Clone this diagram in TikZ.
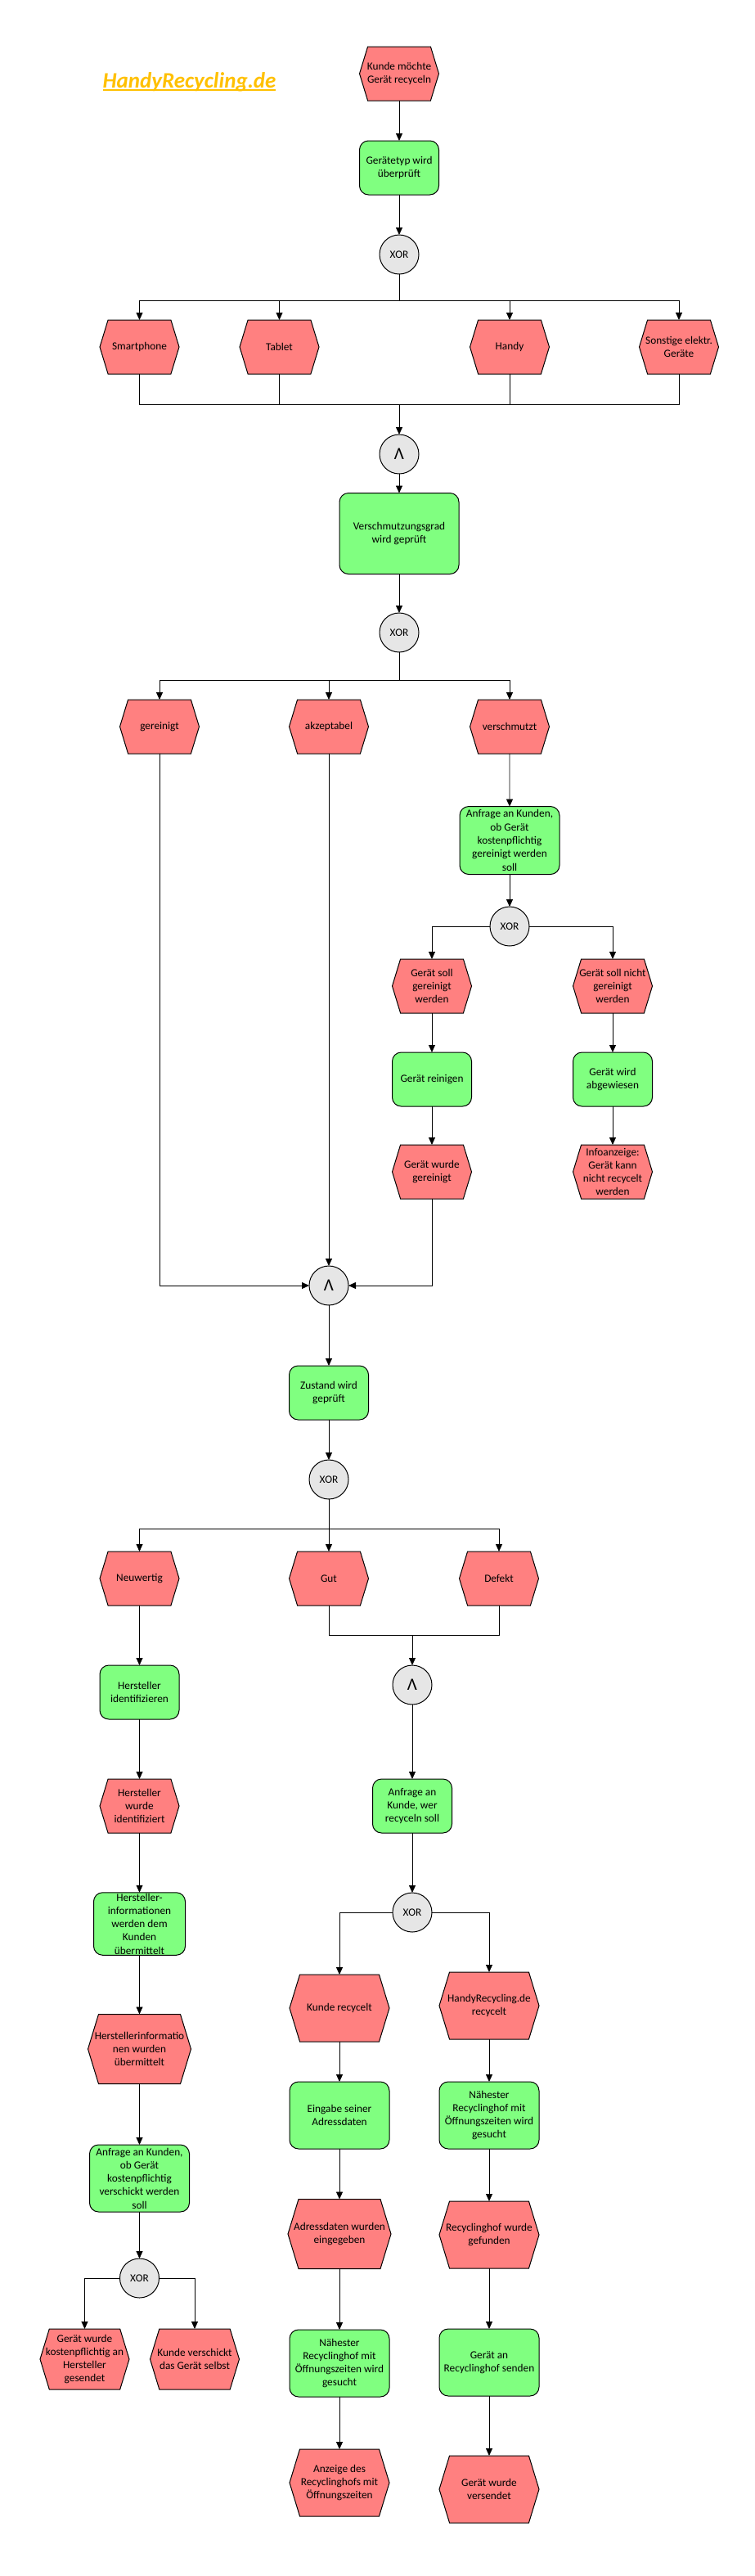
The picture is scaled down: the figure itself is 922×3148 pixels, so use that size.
\documentclass[tikz,border=0pt]{standalone}
\usepackage{fontspec}
\setmainfont{Carlito}
\usetikzlibrary{arrows.meta, shapes.symbols}
\definecolor{evred}{HTML}{FF8080}
\definecolor{fngreen}{HTML}{80FF80}
\definecolor{gtgray}{HTML}{E6E6E6}
\definecolor{logo}{HTML}{FFC000}

\begin{document}
\begin{tikzpicture}[x=1pt, y=-1pt,
    every node/.style={font=\fontsize{13.3}{16.3}\selectfont, align=center, outer sep=0pt},
    ev/.style={signal, signal to=east and west, signal from=nowhere, signal pointer angle=146,
      draw, line width=1pt, fill=evred, inner xsep=-10pt, inner ysep=1pt,
      minimum width=97pt, minimum height=66pt},
    fn/.style={rectangle, rounded corners=11pt, draw, line width=1pt, fill=fngreen,
      inner xsep=1pt, inner ysep=1pt, minimum width=97pt, minimum height=66pt},
    gt/.style={circle, draw, line width=1pt, fill=gtgray, inner sep=0pt, minimum size=48pt},
    andgt/.style={gt, font=\fontsize{21}{21}\selectfont},
    big/.style={minimum width=122pt, minimum height=82pt},
    arr/.style={line width=0.8pt, -{Triangle[length=9pt,width=8pt]}},
    ln/.style={line width=0.8pt}]

  \useasboundingbox (0,0) rectangle (922,3148);

  \node[font=\fontsize{27}{30}\selectfont\bfseries\itshape, text=logo, inner sep=0pt, anchor=base] (logo) at (231.5,107) {HandyRecycling.de};
  \draw[logo, line width=1.5pt] ([yshift=-3pt]logo.base west) -- ([yshift=-3pt]logo.base east);

  \node[ev] (e1) at (488,90) {Kunde möchte\\Gerät recyceln};
  \node[fn] (f1) at (488,205) {Gerätetyp wird\\überprüft};
  \node[gt] (g1) at (488,311) {XOR};
  \node[ev] (e2) at (170.5,424) {Smartphone};
  \node[ev] (e3) at (341.5,424) {Tablet};
  \node[ev] (e4) at (623,424) {Handy};
  \node[ev] (e5) at (830,424) {Sonstige elektr.\\Geräte};
  \node[andgt] (g2) at (488,555) {Λ};
  \node[fn, minimum width=146pt, minimum height=99pt] (f2) at (488,652) {Verschmutzungsgrad\\wird geprüft};
  \node[gt] (g3) at (488,773) {XOR};
  \node[ev] (e6) at (195,888) {gereinigt};
  \node[ev] (e7) at (402,888) {akzeptabel};
  \node[ev] (e8) at (623,888) {verschmutzt};
  \node[fn, minimum width=122pt, minimum height=83pt] (f3) at (623,1027) {Anfrage an Kunden,\\ob Gerät\\kostenpflichtig\\gereinigt werden\\soll};
  \node[gt] (g4) at (623,1132) {XOR};
  \node[ev] (e9) at (528,1205) {Gerät soll\\gereinigt\\werden};
  \node[ev] (e10) at (749,1205) {Gerät soll nicht\\gereinigt\\werden};
  \node[fn] (f4) at (528,1319) {Gerät reinigen};
  \node[fn] (f5) at (749,1319) {Gerät wird\\abgewiesen};
  \node[ev] (e11) at (528,1432) {Gerät wurde\\gereinigt};
  \node[ev] (e12) at (749,1432) {Infoanzeige:\\Gerät kann\\nicht recycelt\\werden};
  \node[andgt] (g5) at (402,1571) {Λ};
  \node[fn] (f6) at (402,1702) {Zustand wird\\geprüft};
  \node[gt] (g6) at (402,1808) {XOR};
  \node[ev] (e13) at (170.5,1929) {Neuwertig};
  \node[ev] (e14) at (402,1929) {Gut};
  \node[ev] (e15) at (610,1929) {Defekt};
  \node[andgt] (g7) at (504,2059) {Λ};
  \node[fn] (f7) at (170.5,2068) {Hersteller\\identifizieren};
  \node[ev] (e16) at (170.5,2207) {Hersteller\\wurde\\identifiziert};
  \node[fn] (f8) at (504,2207) {Anfrage an\\Kunde, wer\\recyceln soll};
  \node[gt] (g8) at (504,2337) {XOR};
  \node[fn, minimum width=112pt, minimum height=76pt] (f9) at (170.5,2351) {Hersteller-\\informationen\\werden dem\\Kunden\\übermittelt};
  \node[ev, big] (e17) at (415,2454) {Kunde recycelt};
  \node[ev, big] (e18) at (598,2451) {HandyRecycling.de\\recycelt};
  \node[ev, minimum width=126pt, minimum height=85pt] (e19) at (170.5,2504) {Herstellerinformatio\\nen wurden\\übermittelt};
  \node[fn, big] (f10) at (415,2585) {Eingabe seiner\\Adressdaten};
  \node[fn, big] (f11) at (598,2585) {Nähester\\Recyclinghof mit\\Öffnungszeiten wird\\gesucht};
  \node[fn, big] (f12) at (170.5,2662) {Anfrage an Kunden,\\ob Gerät\\kostenpflichtig\\verschickt werden\\soll};
  \node[ev, minimum width=126pt, minimum height=85pt] (e20) at (415,2730) {Adressdaten wurden\\eingegeben};
  \node[ev, big] (e21) at (598,2731) {Recyclinghof wurde\\gefunden};
  \node[gt] (g9) at (170.5,2784) {XOR};
  \node[ev, minimum width=109pt, minimum height=74pt] (e22) at (103.5,2883) {Gerät wurde\\kostenpflichtig an\\Hersteller\\gesendet};
  \node[ev, minimum width=109pt, minimum height=74pt] (e23) at (238,2883) {Kunde verschickt\\das Gerät selbst};
  \node[fn, big] (f13) at (415,2888) {Nähester\\Recyclinghof mit\\Öffnungszeiten wird\\gesucht};
  \node[fn, big] (f14) at (598,2887) {Gerät an\\Recyclinghof senden};
  \node[ev, big] (e24) at (415,3034) {Anzeige des\\Recyclinghofs mit\\Öffnungszeiten};
  \node[ev, big] (e25) at (598,3042) {Gerät wurde\\versendet};

  \coordinate (b1) at (488,367);
  \coordinate (j1) at (488,494);
  \coordinate (b2) at (488,831);
  \coordinate (b3) at (402,1868);
  \coordinate (j2) at (504,1998);

  \draw[arr] (e1) -- (f1);
  \draw[arr] (f1) -- (g1);
  \draw[ln] (g1) -- (b1);
  \foreach \n in {e2,e3,e4,e5} \draw[arr] (b1) -| (\n);
  \foreach \n in {e2,e3,e4,e5} \draw[ln] (\n) |- (j1);
  \draw[arr] (j1) -- (g2);
  \draw[arr] (g2) -- (f2);
  \draw[arr] (f2) -- (g3);
  \draw[ln] (g3) -- (b2);
  \foreach \n in {e6,e7,e8} \draw[arr] (b2) -| (\n);
  \draw[arr] (e8) -- (f3);
  \draw[arr] (f3) -- (g4);
  \draw[arr] (g4) -| (e9);
  \draw[arr] (g4) -| (e10);
  \draw[arr] (e9) -- (f4);
  \draw[arr] (f4) -- (e11);
  \draw[arr] (e10) -- (f5);
  \draw[arr] (f5) -- (e12);
  \draw[arr] (e6) |- (g5);
  \draw[arr] (e7) -- (g5);
  \draw[arr] (e11) |- (g5);
  \draw[arr] (g5) -- (f6);
  \draw[arr] (f6) -- (g6);
  \draw[ln] (g6) -- (b3);
  \foreach \n in {e13,e14,e15} \draw[arr] (b3) -| (\n);
  \draw[ln] (e14) |- (j2);
  \draw[ln] (e15) |- (j2);
  \draw[arr] (j2) -- (g7);
  \draw[arr] (e13) -- (f7);
  \draw[arr] (f7) -- (e16);
  \draw[arr] (e16) -- (f9);
  \draw[arr] (f9) -- (e19);
  \draw[arr] (e19) -- (f12);
  \draw[arr] (f12) -- (g9);
  \draw[arr] (g9) -| (e22);
  \draw[arr] (g9) -| (e23);
  \draw[arr] (g7) -- (f8);
  \draw[arr] (f8) -- (g8);
  \draw[arr] (g8) -| (e17);
  \draw[arr] (g8) -| (e18);
  \draw[arr] (e17) -- (f10);
  \draw[arr] (f10) -- (e20);
  \draw[arr] (e20) -- (f13);
  \draw[arr] (f13) -- (e24);
  \draw[arr] (e18) -- (f11);
  \draw[arr] (f11) -- (e21);
  \draw[arr] (e21) -- (f14);
  \draw[arr] (f14) -- (e25);
\end{tikzpicture}
\end{document}
